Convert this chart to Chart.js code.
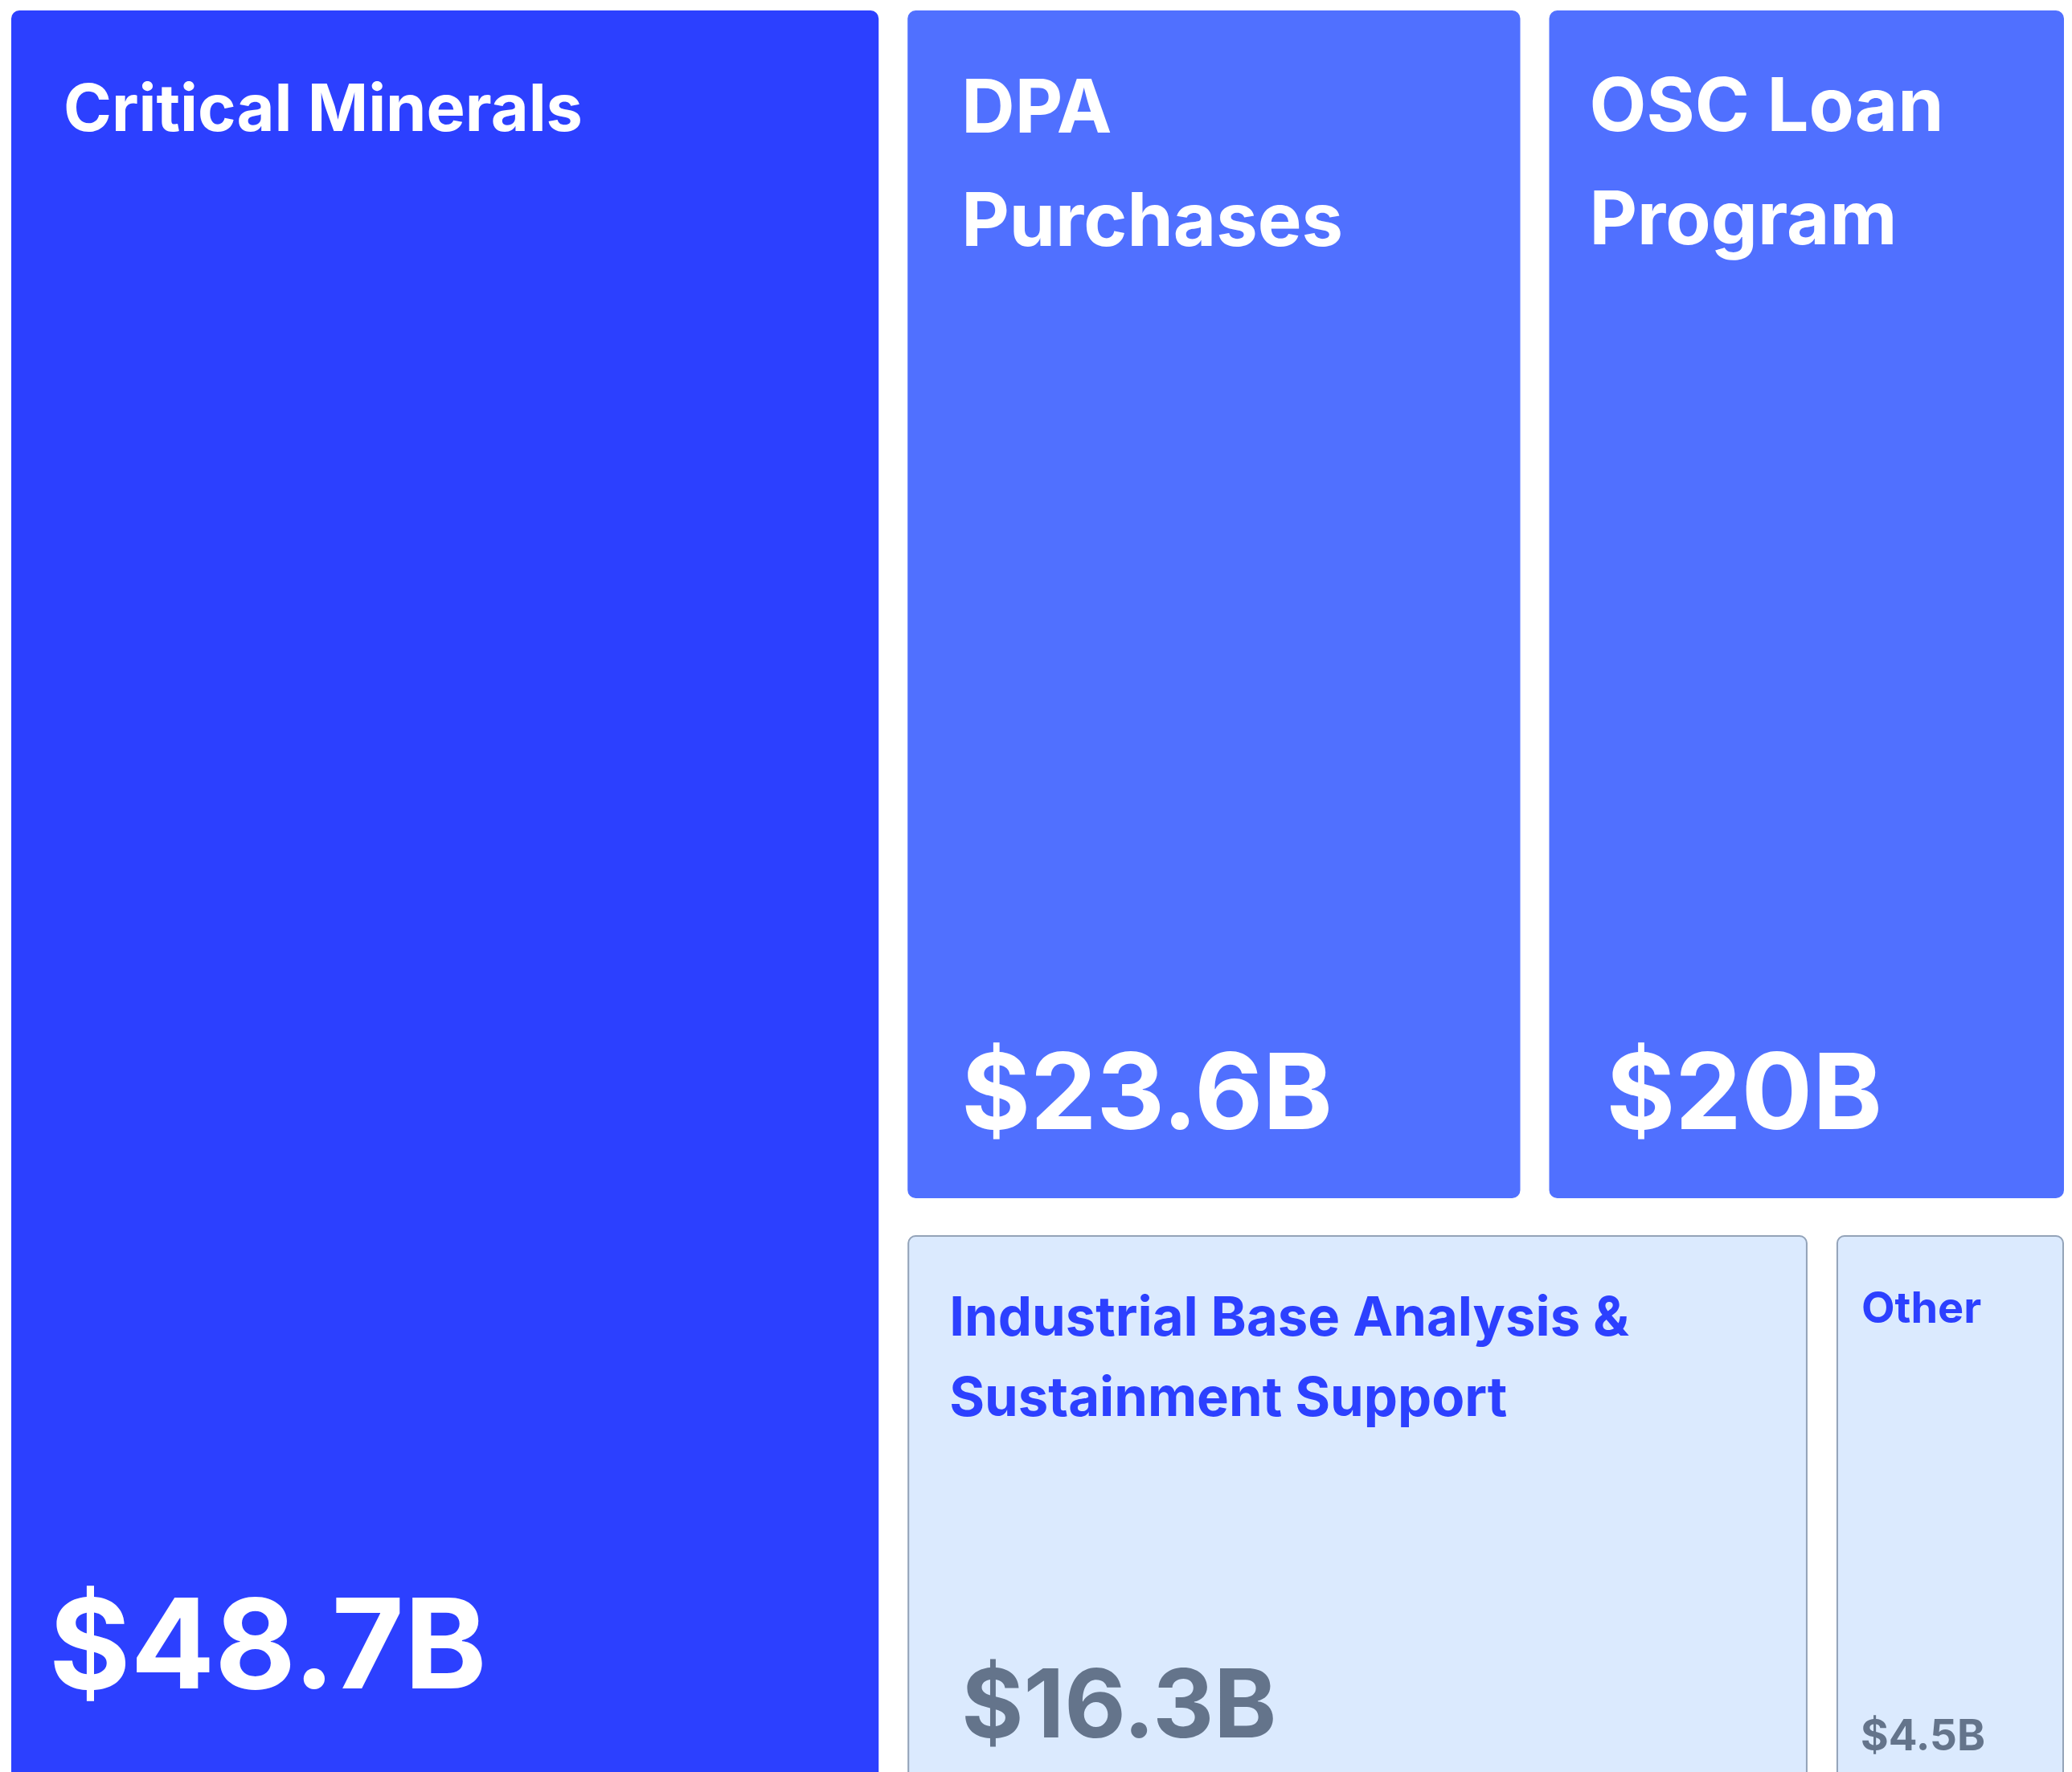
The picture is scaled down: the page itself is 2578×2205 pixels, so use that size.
<!DOCTYPE html>
<html>
<head>
<meta charset="utf-8">
<script src="https://cdn.jsdelivr.net/npm/chart.js@4.4.0/dist/chart.umd.min.js"></script>
<style>
  html, body { margin: 0; padding: 0; background: #ffffff; overflow: hidden; width: 2578px; height: 2205px; }
  #wrap { position: absolute; left: -4px; top: -10px; width: 2590px; height: 2251px; }
</style>
</head>
<body>
<div id="wrap"><canvas id="chart" width="2590" height="2251"></canvas></div>
<script>
// ---- data ----
const categories = [
  'Critical Minerals',
  'DPA Purchases',
  'OSC Loan Program',
  'Industrial Base Analysis & Sustainment Support',
  'Other'
];
const fundingBillions = [48.7, 23.6, 20, 16.3, 4.5];
const valuePrefix = '$';
const valueSuffix = 'B';

// ---- styles (by size rank) ----
const FONT = 'Inter, "Open Sans", "DejaVu Sans", sans-serif';
const GAP_X = 18;
const GAP_Y = 23;
const RADIUS = 10;
const tileStyles = [
  { fill: '#2C40FF', stroke: null, titleColor: '#FFFFFF', valueColor: '#FFFFFF',
    titleSize: 81, valueSize: 155, titleX: 65, valueX: 47, titleBase: 150, lineHeight: 124, valueFromBottom: 117 },
  { fill: '#5070FF', stroke: null, titleColor: '#FFFFFF', valueColor: '#FFFFFF',
    titleSize: 92, valueSize: 131, titleX: 67, valueX: 67, titleBase: 152, lineHeight: 141, valueFromBottom: 86 },
  { fill: '#5070FF', stroke: null, titleColor: '#FFFFFF', valueColor: '#FFFFFF',
    titleSize: 92, valueSize: 131, titleX: 50, valueX: 71, titleBase: 150, lineHeight: 141, valueFromBottom: 86 },
  { fill: '#DBEAFE', stroke: '#94A3B8', titleColor: '#2C40FF', valueColor: '#64748B',
    titleSize: 67, valueSize: 118, titleX: 52, valueX: 67, titleBase: 125, lineHeight: 100, valueFromBottom: 56 },
  { fill: '#DBEAFE', stroke: '#94A3B8', titleColor: '#2C40FF', valueColor: '#64748B',
    titleSize: 54, valueSize: 53, titleX: 31, valueX: 30, titleBase: 109, lineHeight: 80, valueFromBottom: 40 }
];

// ---- layout: binary split, first group reaches 1/phi^2 of the value, alternating direction ----
const SPLIT_SHARE = 1 / (((1 + Math.sqrt(5)) / 2) ** 2);
function splitTiles(values, idx, x0, y0, x1, y1, alongX, out) {
  if (idx.length === 1) { out[idx[0]] = { x0, y0, x1, y1 }; return; }
  const total = idx.reduce((s, i) => s + values[i], 0);
  let acc = 0, k = 0;
  while (k < idx.length - 1) {
    acc += values[idx[k]]; k++;
    if (acc >= total * SPLIT_SHARE) break;
  }
  const f = acc / total;
  const a = idx.slice(0, k), b = idx.slice(k);
  if (alongX) {
    const xm = x0 + (x1 - x0) * f;
    splitTiles(values, a, x0, y0, xm, y1, false, out);
    splitTiles(values, b, xm, y0, x1, y1, false, out);
  } else {
    const ym = y0 + (y1 - y0) * f;
    splitTiles(values, a, x0, y0, x1, ym, true, out);
    splitTiles(values, b, x0, ym, x1, y1, true, out);
  }
}

function roundRectPath(ctx, x, y, w, h, r) {
  ctx.beginPath();
  ctx.moveTo(x + r, y);
  ctx.lineTo(x + w - r, y);
  ctx.arcTo(x + w, y, x + w, y + r, r);
  ctx.lineTo(x + w, y + h - r);
  ctx.arcTo(x + w, y + h, x + w - r, y + h, r);
  ctx.lineTo(x + r, y + h);
  ctx.arcTo(x, y + h, x, y + h - r, r);
  ctx.lineTo(x, y + r);
  ctx.arcTo(x, y, x + r, y, r);
  ctx.closePath();
}

function wrapWords(ctx, text, maxWidth) {
  const words = text.split(' ');
  const lines = [];
  let line = '';
  for (const w of words) {
    const test = line ? line + ' ' + w : w;
    if (line && ctx.measureText(test).width > maxWidth) { lines.push(line); line = w; }
    else line = test;
  }
  if (line) lines.push(line);
  return lines;
}

const treemapPlugin = {
  id: 'treemapTiles',
  afterDatasetsDraw(chart) {
    const { ctx, chartArea, scales: { x, y } } = chart;
    const labels = chart.data.labels;
    const values = chart.data.datasets[0].data;
    const order = values.map((v, i) => i).sort((a, b) => values[b] - values[a]);
    const rects = [];
    splitTiles(values, order, 0, 0, 1, 1, chartArea.width >= chartArea.height, rects);
    ctx.save();
    order.forEach((i, rank) => {
      const r = rects[i];
      const st = tileStyles[Math.min(rank, tileStyles.length - 1)];
      const left = x.getPixelForValue(r.x0) + GAP_X;
      const right = x.getPixelForValue(r.x1) - GAP_X;
      const top = y.getPixelForValue(r.y0) + GAP_Y;
      const bottom = y.getPixelForValue(r.y1) - GAP_Y;
      const w = right - left, h = bottom - top;
      roundRectPath(ctx, left, top, w, h, RADIUS);
      ctx.fillStyle = st.fill;
      ctx.fill();
      if (st.stroke) {
        roundRectPath(ctx, left + 1, top + 1, w - 2, h - 2, RADIUS - 1);
        ctx.lineWidth = 2;
        ctx.strokeStyle = st.stroke;
        ctx.stroke();
      }
      ctx.textAlign = 'left';
      ctx.textBaseline = 'alphabetic';
      // title
      ctx.font = `700 ${st.titleSize}px ${FONT}`;
      ctx.fillStyle = st.titleColor;
      const lines = wrapWords(ctx, labels[i], w - 2 * st.titleX);
      lines.forEach((ln, li) => {
        ctx.fillText(ln, left + st.titleX, top + st.titleBase + li * st.lineHeight);
      });
      // value
      ctx.font = `700 ${st.valueSize}px ${FONT}`;
      ctx.fillStyle = st.valueColor;
      ctx.fillText(valuePrefix + values[i] + valueSuffix, left + st.valueX, bottom - st.valueFromBottom);
    });
    ctx.restore();
  }
};

new Chart(document.getElementById('chart'), {
  type: 'scatter',
  data: {
    labels: categories,
    datasets: [{ label: 'Funding ($B)', data: fundingBillions, pointRadius: 0, showLine: false }]
  },
  options: {
    responsive: false,
    animation: false,
    devicePixelRatio: 1,
    layout: { padding: 0 },
    events: [],
    scales: {
      x: { type: 'linear', min: 0, max: 1, display: false },
      y: { type: 'linear', min: 0, max: 1, reverse: true, display: false }
    },
    plugins: { legend: { display: false }, tooltip: { enabled: false }, title: { display: false } }
  },
  plugins: [treemapPlugin]
});
</script>
</body>
</html>
